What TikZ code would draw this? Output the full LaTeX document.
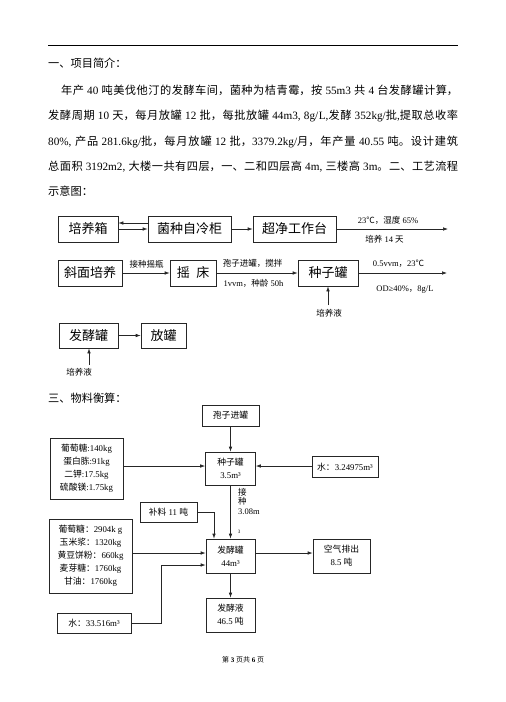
\documentclass[tikz,border=0pt]{standalone}
\usepackage{fontspec}
\setmainfont{Liberation Serif}
\newfontfamily\cjkfont{Noto Sans CJK SC}
\usetikzlibrary{arrows.meta}
\newXeTeXintercharclass\cjkclass
\newcount\cjkcnt
\def\setcjkrange#1#2{\cjkcnt=#1\relax\loop\XeTeXcharclass\cjkcnt=\cjkclass\relax\ifnum\cjkcnt<#2\relax\advance\cjkcnt by 1\repeat}
\setcjkrange{"4E00}{"9FFF}
\setcjkrange{"3000}{"303F}
\setcjkrange{"FF00}{"FFEF}
\XeTeXcharclass"2103=\cjkclass
\XeTeXinterchartoks 0 \cjkclass = {\cjkfont}
\XeTeXinterchartoks 4095 \cjkclass = {\cjkfont}
\XeTeXinterchartoks \cjkclass 0 = {\rmfamily}
\XeTeXinterchartoks \cjkclass 4095 = {\rmfamily}
\XeTeXinterchartokenstate=1
\XeTeXlinebreaklocale "zh"
\XeTeXlinebreakskip=0pt plus 2pt
\tikzset{
 fbox/.style={draw=black!85, line width=0.7pt, inner sep=0pt, font=\fontsize{13}{15}\selectfont},
 mbox/.style={draw=black!85, line width=0.7pt, inner sep=0pt, align=center, font=\fontsize{8.8}{13}\selectfont},
 lbl/.style={inner sep=0pt, font=\fontsize{8.5}{10}\selectfont},
 arr/.style={draw=black!85, line width=0.7pt, -{Latex[length=5pt,width=3.6pt]}},
 ln/.style={draw=black!85, line width=0.7pt},
 body/.style={inner sep=0pt, anchor=base west, font=\fontsize{11.2}{25.3}\selectfont},
}
\begin{document}
\begin{tikzpicture}[x=1pt,y=-1pt]
\useasboundingbox[fill=white] (0,0) rectangle (506,702);
% header rule
\draw[line width=0.8pt] (48,45) -- (458,45);
\node[body] (h1) at (48,67.5) {一、项目简介：};
\node[body] (para) at (48,94.5) {\parbox[t]{410pt}{\fontsize{11.2}{25.3}\selectfont\tolerance=9999\emergencystretch=0pt
\hspace*{13pt}年产 40 吨美伐他汀的发酵车间，菌种为桔青霉，按 55m3 共 4 台发酵罐计算，\linebreak
发酵周期 10 天，每月放罐 12 批，每批放罐 44m3, 8g/L,发酵 352kg/批,提取总收率\linebreak
80\%, 产品 281.6kg/批，每月放罐 12 批，3379.2kg/月，年产量 40.55 吨。设计建筑\linebreak
总面积 3192m2, 大楼一共有四层，一、二和四层高 4m, 三楼高 3m。二、工艺流程\linebreak
示意图：}};
% flow row 1
\node[fbox, minimum width=60pt, minimum height=26pt] (pyx) at (88,229) {培养箱};
\node[fbox, minimum width=83pt, minimum height=26pt] (jz) at (189.5,229) {菌种自冷柜};
\node[fbox, minimum width=83pt, minimum height=26pt] (cj) at (294.5,229) {超净工作台};
\coordinate (e1) at (448,229);
\draw[arr] ([yshift=6pt]jz.west) -- ([yshift=6pt]pyx.east);
\draw[arr] (pyx.east) -- (jz.west);
\draw[arr] (jz.east) -- (cj.west);
\draw[arr] (cj.east) -- (e1);
\node[lbl] (t1) at (388,220) {23℃，湿度 65\%};
\node[lbl] (t2) at (384.5,239) {培养 14 天};
% flow row 2
\node[fbox, minimum width=64pt, minimum height=26pt] (xm) at (90,273) {斜面培养};
\node[fbox, minimum width=46pt, minimum height=26pt] (yc) at (193,273) {摇\enspace 床};
\node[fbox, minimum width=60pt, minimum height=26pt] (zzg) at (328,273) {种子罐};
\coordinate (e2) at (447,273);
\draw[arr] (xm.east) -- (yc.west);
\draw[arr] (yc.east) -- (zzg.west);
\draw[arr] (zzg.east) -- (e2);
\node[lbl] (t3) at (146.5,264) {接种摇瓶};
\node[lbl] (t4) at (252.5,263.5) {孢子进罐，搅拌};
\node[lbl] (t5) at (253.5,283) {1vvm，种龄 50h};
\node[lbl] (t6) at (398.5,264) {0.5vvm，23℃};
\node[lbl] (t7) at (405,290) {OD≥40\%，8g/L};
\node[lbl] (pyy1) at (329,313.5) {培养液};
\coordinate (c1) at (328,305);
\draw[arr] (c1) -- (c1 |- zzg.south);
% flow row 3
\node[fbox, minimum width=59pt, minimum height=25pt] (fjg) at (88.5,335.5) {发酵罐};
\node[fbox, minimum width=45pt, minimum height=25pt] (fg) at (163.5,335.5) {放罐};
\draw[arr] (fjg.east) -- (fg.west);
\node[lbl] (pyy2) at (79,372) {培养液};
\coordinate (c2) at (89,365);
\draw[arr] (c2) -- (c2 |- fjg.south);
% section 3
\node[body] (h3) at (48,402) {三、物料衡算：};
\node[mbox, minimum width=57pt, minimum height=21pt] (bz) at (230.5,415.5) {孢子进罐};
\node[mbox, minimum width=50pt, minimum height=33pt] (zzg2) at (230.5,468.5) {种子罐\\3.5m³};
\node[mbox, minimum width=73pt, minimum height=61pt] (L1) at (86.5,468.5) {葡萄糖:140kg\\蛋白胨:91kg\\二钾:17.5kg\\硫酸镁:1.75kg};
\node[mbox, minimum width=66pt, minimum height=20.5pt] (w1) at (345,467) {水：3.24975m³};
\node[mbox, minimum width=57pt, minimum height=20pt] (bl) at (168.5,512) {补料 11 吨};
\node[mbox, minimum width=49pt, minimum height=34pt] (fjg2) at (230.5,556) {发酵罐\\44m³};
\node[mbox, minimum width=83pt, minimum height=74pt] (L2) at (90.5,556) {葡萄糖：2904k g\\玉米浆：1320kg\\黄豆饼粉：660kg\\麦芽糖：1760kg\\甘油：1760kg};
\node[mbox, minimum width=74pt, minimum height=20pt] (w2) at (94,623) {水：33.516m³};
\node[mbox, minimum width=57pt, minimum height=34pt] (kq) at (341.5,556) {空气排出\\8.5 吨};
\node[mbox, minimum width=49pt, minimum height=34pt] (fjy) at (230.5,615) {发酵液\\46.5 吨};
\coordinate (r1) at (0,466);
\coordinate (r2) at (0,553);
\coordinate (r3) at (0,565);
\coordinate (k2) at (161,0);
\draw[arr] (bz.south) -- (zzg2.north);
\draw[arr] (L1.east |- r1) -- (zzg2.west |- r1);
\draw[arr] (w1.west |- r1) -- (zzg2.east |- r1);
\draw[arr] (zzg2.south) -- (fjg2.north);
\draw[arr] (bl.east) -| ([xshift=-16.5pt]fjg2.north);
\draw[arr] (L2.east |- r2) -- (fjg2.west |- r2);
\draw[arr] (w2.east) -- (w2.east -| k2) -- (k2 |- r3) -- (fjg2.west |- r3);
\draw[arr] (fjg2.east |- r2) -- (kq.west |- r2);
\draw[arr] (fjg2.south) -- (fjy.north);
\node[lbl, anchor=west] (j1) at (238,492) {接};
\node[lbl, anchor=west] (j2) at (238,501.5) {种};
\node[lbl, anchor=west] (j3) at (238,512) {3.08m};
\node[inner sep=0pt, font=\fontsize{5}{6}\selectfont] (s3) at (239,531.5) {3};
% footer
\node[inner sep=0pt, font=\fontsize{7}{8}\selectfont] (foot) at (243,660) {第 \textbf{3} 页共 \textbf{6} 页};
\end{tikzpicture}
\end{document}
